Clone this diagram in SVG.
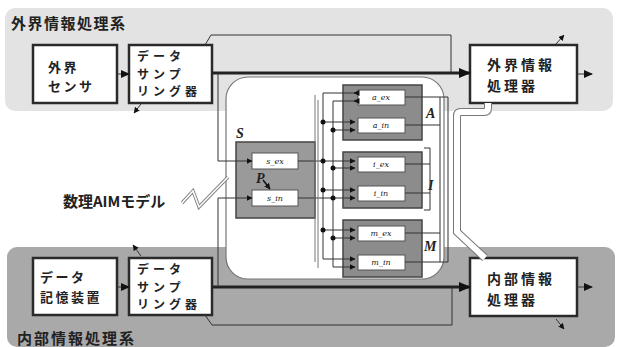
<svg xmlns="http://www.w3.org/2000/svg" width="617" height="347" viewBox="0 0 617 347">
<defs>
<marker id="ah" markerWidth="9" markerHeight="8" refX="8" refY="4" orient="auto" markerUnits="userSpaceOnUse"><path d="M0,0 L9,4 L0,8 z" fill="#111"/></marker>
<marker id="ahs" markerWidth="6" markerHeight="6" refX="5.5" refY="3" orient="auto" markerUnits="userSpaceOnUse"><path d="M0,0 L6,3 L0,6 z" fill="#111"/></marker>
<marker id="ahb" markerWidth="12" markerHeight="10" refX="11" refY="5" orient="auto" markerUnits="userSpaceOnUse"><path d="M0,0 L12,5 L0,10 z" fill="#111"/></marker>
</defs>
<style>
.jp{font-family:"Noto Sans CJK JP","Noto Sans",sans-serif;font-weight:bold;fill:#222}
.sm{font-size:12px;letter-spacing:4px}
.md{font-size:13px;letter-spacing:2.5px}
.pr{font-size:14px;letter-spacing:3px}
.box{fill:#fff;stroke:#2a2a2a;stroke-width:2.5}
.grp{fill:#8c8c8c;stroke:#444;stroke-width:1.5}
.cell{fill:#fff;stroke:#555;stroke-width:1}
.lbl{font-family:"DejaVu Serif","Liberation Serif",serif;font-style:italic;font-size:8px;fill:#222;text-anchor:middle}
.big{font-family:"Liberation Serif",serif;font-style:italic;font-weight:bold;font-size:14px;fill:#222}
.w{fill:none;stroke:#333;stroke-width:1}
.g{fill:none;stroke:#777;stroke-width:1}
.thick{fill:none;stroke:#222;stroke-width:3}
.dot{fill:#111}
</style>

<g id="bands">
<rect x="5" y="8" width="608" height="103" rx="10" fill="#e3e3e3"/>
<rect x="7" y="247" width="608" height="100" rx="10" fill="#a9a9a9"/>
<text class="jp" x="11" y="29" font-size="15" letter-spacing="1.5">外界情報処理系</text>
<text class="jp" x="17" y="344" font-size="15" letter-spacing="2">内部情報処理系</text>
</g>

<g id="aim-model">
<rect x="226" y="77" width="218" height="202" rx="22" fill="#fff" stroke="#777" stroke-width="1.2"/>
<polyline points="182,203 193,191 199,207 228,177" fill="none" stroke="#888" stroke-width="3.5"/>
<polyline points="182,203 193,191 199,207 228,177" fill="none" stroke="#fff" stroke-width="1.5"/>
<text class="jp" x="63" y="207" font-size="15">数理AIMモデル</text>
</g>

<g id="sensor">
<rect class="box" x="33" y="45" width="84" height="58"/>
<text class="jp md" x="48" y="72">外界</text>
<text class="jp md" x="48" y="91">センサ</text>
</g>
<g id="sampler-top">
<rect class="box" x="129" y="45" width="83" height="58"/>
<text class="jp sm" x="137" y="61">データ</text>
<text class="jp sm" x="137" y="78.5">サンプ</text>
<text class="jp sm" x="137" y="96">リング器</text>
</g>
<g id="ext-proc">
<rect class="box" x="470" y="45" width="107" height="58"/>
<text class="jp pr" x="487" y="70">外界情報</text>
<text class="jp pr" x="487" y="91">処理器</text>
</g>
<g id="storage">
<rect class="box" x="33" y="258" width="84" height="57"/>
<text class="jp md" x="40" y="282">データ</text>
<text class="jp md" x="40" y="302">記憶装置</text>
</g>
<g id="sampler-bottom">
<rect class="box" x="129" y="258" width="83" height="57"/>
<text class="jp sm" x="137" y="274">データ</text>
<text class="jp sm" x="137" y="291.5">サンプ</text>
<text class="jp sm" x="137" y="309">リング器</text>
</g>
<g id="int-proc">
<rect class="box" x="470" y="258" width="107" height="58"/>
<text class="jp pr" x="487" y="284">内部情報</text>
<text class="jp pr" x="487" y="305">処理器</text>
</g>

<g id="S">
<rect x="236" y="142" width="79" height="76" fill="#9a9a9a" stroke="#444" stroke-width="1.5"/>
<text class="big" x="236" y="138">S</text>
<rect class="cell" x="252" y="153" width="46" height="16"/>
<text class="lbl" x="275" y="164">s_ex</text>
<rect class="cell" x="252" y="190" width="46" height="16"/>
<text class="lbl" x="275" y="201">s_in</text>
<text class="big" x="256" y="183" font-size="9">P</text>
<line x1="263" y1="180" x2="270" y2="189" stroke="#111" stroke-width="1.5" marker-end="url(#ahs)"/>
</g>

<g id="A">
<rect class="grp" x="343" y="85" width="79" height="55"/>
<rect class="cell" x="358" y="90" width="47" height="15"/>
<text class="lbl" x="381" y="100">a_ex</text>
<rect class="cell" x="358" y="118" width="47" height="15"/>
<text class="lbl" x="381" y="128">a_in</text>
<text class="big" x="426" y="118">A</text>
</g>
<g id="I">
<rect class="grp" x="343" y="152" width="79" height="56"/>
<rect class="cell" x="358" y="157" width="47" height="15"/>
<text class="lbl" x="381" y="167">i_ex</text>
<rect class="cell" x="358" y="186" width="47" height="15"/>
<text class="lbl" x="381" y="196">i_in</text>
<text class="big" x="428" y="190">I</text>
</g>
<g id="M">
<rect class="grp" x="343" y="220" width="79" height="57"/>
<rect class="cell" x="358" y="226" width="47" height="15"/>
<text class="lbl" x="381" y="236">m_ex</text>
<rect class="cell" x="358" y="255" width="47" height="15"/>
<text class="lbl" x="381" y="265">m_in</text>
<text class="big" x="424" y="251">M</text>
</g>

<g id="connectors">
<line x1="117" y1="74" x2="129" y2="74" class="w" stroke-width="2" marker-end="url(#ah)"/>
<line x1="117" y1="287" x2="129" y2="287" class="w" stroke-width="2" marker-end="url(#ah)"/>
<line x1="577" y1="74" x2="592" y2="74" class="w" stroke-width="2" marker-end="url(#ah)"/>
<line x1="577" y1="287" x2="592" y2="287" class="w" stroke-width="2" marker-end="url(#ah)"/>
<line x1="212" y1="73" x2="470" y2="73" class="thick" marker-end="url(#ahb)"/>
<line x1="212" y1="287" x2="470" y2="287" class="thick" marker-end="url(#ahb)"/>
<path class="w" d="M205,45 L211,35 H451 V72"/>
<path class="w" d="M205,315 L212,325 H452 V288"/>
<path class="w" d="M218,73 V161 H252" marker-end="url(#ahs)"/>
<path class="w" d="M218,287 V198 H252" marker-end="url(#ahs)"/>
<path class="w" d="M298,161 H355" marker-end="url(#ahs)"/>
<path class="w" d="M298,198 H355" marker-end="url(#ahs)"/>
<path class="w" d="M355,93 H323 V259 H355" marker-end="url(#ahs)"/>
<path class="w" d="M355,101 H333 V267 H355" marker-end="url(#ahs)"/>
<line class="w" x1="355" y1="93" x2="354" y2="93" marker-end="url(#ahs)"/>
<line class="w" x1="355" y1="101" x2="354" y2="101" marker-end="url(#ahs)"/>
<path class="w" d="M323,122 H355" marker-end="url(#ahs)"/>
<path class="w" d="M333,130 H355" marker-end="url(#ahs)"/>
<path class="w" d="M333,168 H355" marker-end="url(#ahs)"/>
<path class="w" d="M323,190 H355" marker-end="url(#ahs)"/>
<path class="w" d="M323,230 H355" marker-end="url(#ahs)"/>
<path class="w" d="M333,238 H355" marker-end="url(#ahs)"/>
<circle class="dot" cx="323" cy="122" r="2.5"/>
<circle class="dot" cx="333" cy="130" r="2.5"/>
<circle class="dot" cx="323" cy="161" r="2.5"/>
<circle class="dot" cx="333" cy="168" r="2.5"/>
<circle class="dot" cx="323" cy="190" r="2.5"/>
<circle class="dot" cx="333" cy="198" r="2.5"/>
<circle class="dot" cx="323" cy="230" r="2.5"/>
<circle class="dot" cx="333" cy="238" r="2.5"/>
<path class="g" d="M315,95 V262 M318,100 V268"/>
<path class="w" d="M405,97 H448 M405,125 H440 M405,233 H440 M405,262 H448"/>
<path class="w" d="M440,97 V262 M448,97 V262"/>
<path class="w" d="M405,164 H430 M405,193 H430 M424,148 H430 V210 H424"/>
<path d="M488,103 V108 Q488,112 484,112 H461 Q457,112 457,116 V232 L485,258" fill="none" stroke="#777" stroke-width="8"/>
<path d="M488,103 V108 Q488,112 484,112 H461 Q457,112 457,116 V232 L485,258" fill="none" stroke="#fff" stroke-width="6"/>
<line class="w" x1="556" y1="44" x2="564" y2="35" marker-end="url(#ahs)"/>
<line class="w" x1="141" y1="104" x2="134" y2="113" marker-end="url(#ahs)"/>
<line class="w" x1="141" y1="256" x2="133" y2="245" marker-end="url(#ahs)"/>
<line class="w" x1="556" y1="319" x2="564" y2="329" marker-end="url(#ahs)"/>
</g>
</svg>
